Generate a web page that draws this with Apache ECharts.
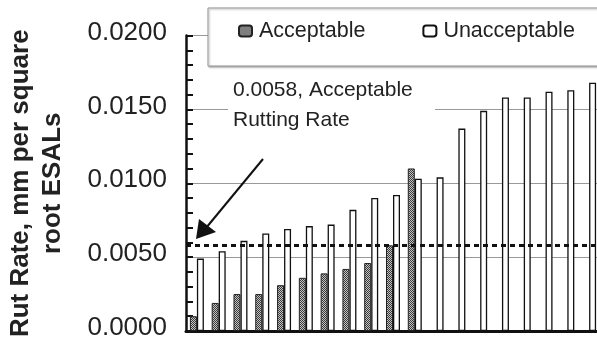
<!DOCTYPE html>
<html>
<head>
<meta charset="utf-8">
<script src="https://cdn.jsdelivr.net/npm/echarts@6/dist/echarts.min.js"></script>
<style>
html,body{margin:0;padding:0;background:#fff;}
#chart{width:597px;height:344px;}
</style>
</head>
<body>
<div id="chart"></div>
<script>
const categories = ['1','2','3','4','5','6','7','8','9','10','11','12','13','14','15','16','17','18','19'];
const acceptable = [0.0010, 0.0019, 0.0025, 0.0025, 0.0031, 0.0036, 0.0039, 0.0042, 0.0046, 0.0058, 0.0110, null, null, null, null, null, null, null, null];
const unacceptable = [0.0049, 0.0054, 0.0061, 0.0066, 0.0069, 0.0071, 0.0072, 0.0082, 0.0090, 0.0092, 0.0103, 0.0104, 0.0137, 0.0149, 0.0158, 0.0158, 0.0162, 0.0163, 0.0168];
const yTicks = [0, 0.005, 0.01, 0.015, 0.02];
const acceptableRate = 0.0058;
const annotation = '0.0058, Acceptable\nRutting Rate';
const yName = 'Rut Rate, mm per square\nroot ESALs';

// hatch pattern for the "Acceptable" bars
const pc = document.createElement('canvas');
pc.width = 2; pc.height = 2;
const pctx = pc.getContext('2d');
pctx.fillStyle = '#c4c4c4'; pctx.fillRect(0,0,2,2);
pctx.fillStyle = '#3a3a3a'; pctx.fillRect(0,0,1,1); pctx.fillRect(1,1,1,1);

const chart = echarts.init(document.getElementById('chart'), null, {renderer:'canvas'});
const FONT = 'Liberation Sans, Arial, sans-serif';

chart.setOption({
  animation: false,
  backgroundColor: '#fff',
  grid: {left: 186, right: -3, top: 35.5, bottom: 13, outerBoundsMode: 'none'},
  legend: {
    left: 208, top: 8, width: 600, orient: 'horizontal',
    padding: [12, 30, 24, 30],
    itemGap: 57, itemWidth: 13, itemHeight: 11,
    backgroundColor: '#fff', borderColor: '#999', borderWidth: 1,
    shadowColor: 'rgba(0,0,0,0.35)', shadowBlur: 2, shadowOffsetX: 1, shadowOffsetY: 1,
    textStyle: {fontFamily: FONT, fontSize: 21.5, color: '#222', padding: [0,0,4,2]},
    data: ['Acceptable', 'Unacceptable']
  },
  xAxis: {
    type: 'category', data: categories,
    axisLine: {show: true, lineStyle: {color: '#111', width: 3}},
    axisTick: {show: false}, axisLabel: {show: false}, splitLine: {show: false}
  },
  yAxis: {
    type: 'value', min: yTicks[0], max: yTicks[yTicks.length-1], interval: yTicks[1]-yTicks[0],
    name: yName, nameLocation: 'middle', nameRotate: 90, nameGap: 117,
    nameTextStyle: {fontFamily: FONT, fontSize: 26, fontWeight: 'bold', color: '#222', lineHeight: 32, align: 'center'},
    axisLine: {show: true, lineStyle: {color: '#111', width: 2.5}},
    axisTick: {show: true, inside: true, length: 7, lineStyle: {color: '#111', width: 2}},
    minorTick: {show: true, splitNumber: 5, length: 7, lineStyle: {color: '#111', width: 2}},
    axisLabel: {fontFamily: FONT, fontSize: 26, color: '#222', margin: 19, verticalAlign: 'bottom', lineHeight: 6,
      formatter: v => v.toFixed(4)},
    splitLine: {show: true, lineStyle: {color: '#999', width: 1}}
  },
  series: [
    {
      name: 'Acceptable', type: 'bar', data: acceptable,
      barWidth: 7, barGap: '0%',
      itemStyle: {color: {image: pc, repeat: 'repeat'}, borderColor: '#222', borderWidth: 1},
      markLine: {
        silent: true, symbol: 'none', label: {show: false}, precision: 6,
        lineStyle: {color: '#111', width: 3, type: [5, 4]},
        data: [{yAxis: acceptableRate}]
      }
    },
    {
      name: 'Unacceptable', type: 'bar', data: unacceptable,
      barWidth: 7, barGap: '0%',
      itemStyle: {color: '#fff', borderColor: '#111', borderWidth: 1.3}
    }
  ],
  graphic: [
    {type: 'rect', shape: {x: 228, y: 70, width: 207, height: 68}, style: {fill: '#fff'}, z: 5},
    {type: 'text', x: 233, y: 75, z: 6,
      style: {text: annotation, font: '21px Liberation Sans, Arial, sans-serif', fill: '#222', lineHeight: 30, verticalAlign: 'top'}},
    {type: 'line', shape: {x1: 263, y1: 159, x2: 206, y2: 228}, style: {stroke: '#111', lineWidth: 2}, z: 6},
    {type: 'polygon', shape: {points: [[196, 239], [199, 219], [216, 232]]}, style: {fill: '#111'}, z: 6}
  ]
});
</script>
</body>
</html>
